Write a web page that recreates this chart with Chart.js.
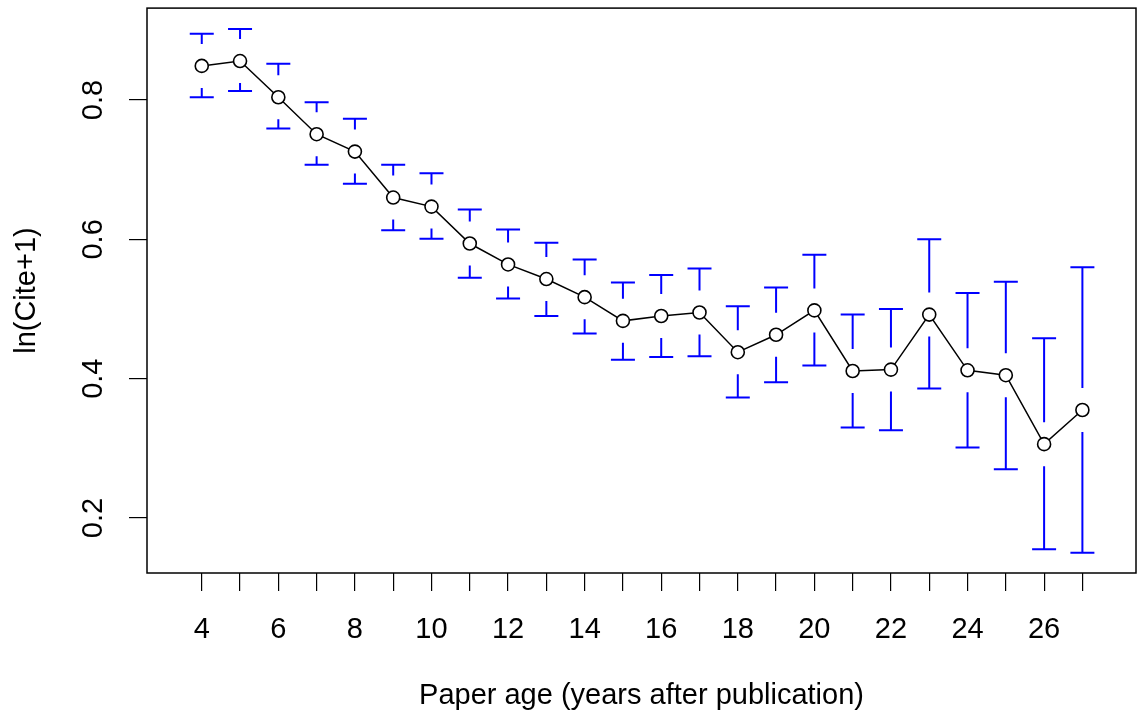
<!DOCTYPE html>
<html>
<head>
<meta charset="utf-8">
<script src="https://cdn.jsdelivr.net/npm/chart.js@4/dist/chart.umd.min.js"></script>
<style>
  html, body { margin: 0; padding: 0; background: #fff; }
  #wrap { width: 1146px; height: 722px; }
</style>
</head>
<body>
<div id="wrap"><canvas id="c" width="1146" height="722"></canvas></div>
<script>
// ---- data ----
const ages = [4,5,6,7,8,9,10,11,12,13,14,15,16,17,18,19,20,21,22,23,24,25,26,27];
const means = [0.849,0.856,0.804,0.751,0.726,0.660,0.647,0.594,0.564,0.543,0.517,0.483,0.490,0.495,0.438,0.463,0.498,0.411,0.413,0.492,0.412,0.405,0.306,0.355];
const upper = [0.895,0.902,0.852,0.797,0.773,0.707,0.695,0.643,0.614,0.595,0.571,0.538,0.549,0.558,0.504,0.531,0.578,0.492,0.500,0.600,0.523,0.539,0.458,0.560];
const lower = [0.804,0.813,0.759,0.707,0.680,0.613,0.601,0.545,0.515,0.490,0.465,0.427,0.431,0.432,0.373,0.395,0.419,0.330,0.326,0.386,0.301,0.270,0.155,0.150];
const xTicks = [4,5,6,7,8,9,10,11,12,13,14,15,16,17,18,19,20,21,22,23,24,25,26,27];
const xLabelled = [4,6,8,10,12,14,16,18,20,22,24,26];
const yTicks = [0.2,0.4,0.6,0.8];
const xTitle = 'Paper age (years after publication)';
const yTitle = 'ln(Cite+1)';

const FONT = '"Liberation Sans", Arial, sans-serif';
const FS = 29;

const errorBars = {
  id: 'errorBars',
  beforeDatasetsDraw(chart) {
    const ctx = chart.ctx, xs = chart.scales.x, ys = chart.scales.y;
    const gap = 22, half = 12;
    ctx.save();
    ctx.strokeStyle = '#0000FF';
    ctx.lineWidth = 2;
    ctx.lineCap = 'butt';
    ages.forEach((a, i) => {
      const px = xs.getPixelForValue(a);
      const cy = ys.getPixelForValue(means[i]);
      const yu = ys.getPixelForValue(upper[i]);
      const yl = ys.getPixelForValue(lower[i]);
      ctx.beginPath();
      ctx.moveTo(px - half, yu); ctx.lineTo(px + half, yu);
      ctx.moveTo(px - half, yl); ctx.lineTo(px + half, yl);
      if (yu < cy - gap) { ctx.moveTo(px, yu); ctx.lineTo(px, cy - gap); }
      if (yl > cy + gap) { ctx.moveTo(px, cy + gap); ctx.lineTo(px, yl); }
      ctx.stroke();
    });
    ctx.restore();
  }
};

const frame = {
  id: 'frame',
  afterDraw(chart) {
    const ctx = chart.ctx, a = chart.chartArea, ys = chart.scales.y;
    ctx.save();
    ctx.strokeStyle = '#000';
    ctx.lineWidth = 1.5;
    ctx.strokeRect(a.left, a.top, a.right - a.left, a.bottom - a.top);
    // rotated y tick labels (R style, las = 0)
    ctx.fillStyle = '#000';
    ctx.font = FS + 'px ' + FONT;
    ctx.textAlign = 'center';
    ctx.textBaseline = 'middle';
    yTicks.forEach(v => {
      const py = ys.getPixelForValue(v);
      ctx.save();
      ctx.translate(94, py);
      ctx.rotate(-Math.PI / 2);
      ctx.fillText(v.toFixed(1), 0, 0);
      ctx.restore();
    });
    // y title
    ctx.save();
    ctx.translate(27, (a.top + a.bottom) / 2);
    ctx.rotate(-Math.PI / 2);
    ctx.fillText(yTitle, 0, 0);
    ctx.restore();
    // x title
    ctx.fillText(xTitle, (a.left + a.right) / 2, 696);
    ctx.restore();
  }
};

new Chart(document.getElementById('c'), {
  type: 'line',
  data: {
    datasets: [{
      data: ages.map((a, i) => ({ x: a, y: means[i] })),
      borderColor: '#000',
      borderWidth: 1.5,
      pointRadius: 6.5,
      pointBorderWidth: 1.6,
      pointBorderColor: '#000',
      pointBackgroundColor: '#fff',
      tension: 0,
      fill: false
    }]
  },
  options: {
    responsive: false,
    animation: false,
    events: [],
    layout: { padding: { top: 7, right: 10, left: 0, bottom: 0 } },
    plugins: { legend: { display: false }, tooltip: { enabled: false } },
    scales: {
      x: {
        type: 'linear',
        min: 2.57,
        max: 28.4,
        afterBuildTicks(s) { s.ticks = xTicks.map(v => ({ value: v })); },
        afterFit(s) { s.height = 149; },
        border: { display: false },
        grid: { drawOnChartArea: false, drawTicks: true, tickLength: 18, color: '#000', lineWidth: 1.2 },
        ticks: {
          autoSkip: false,
          maxRotation: 0,
          minRotation: 0,
          padding: 22,
          color: '#000',
          font: { size: FS, family: FONT },
          callback: v => xLabelled.includes(v) ? String(v) : ''
        }
      },
      y: {
        type: 'linear',
        min: 0.121,
        max: 0.932,
        afterBuildTicks(s) { s.ticks = yTicks.map(v => ({ value: v })); },
        afterFit(s) { s.width = 147; },
        border: { display: false },
        grid: { drawOnChartArea: false, drawTicks: true, tickLength: 18, color: '#000', lineWidth: 1.2 },
        ticks: { display: false }
      }
    }
  },
  plugins: [errorBars, frame]
});
</script>
</body>
</html>
